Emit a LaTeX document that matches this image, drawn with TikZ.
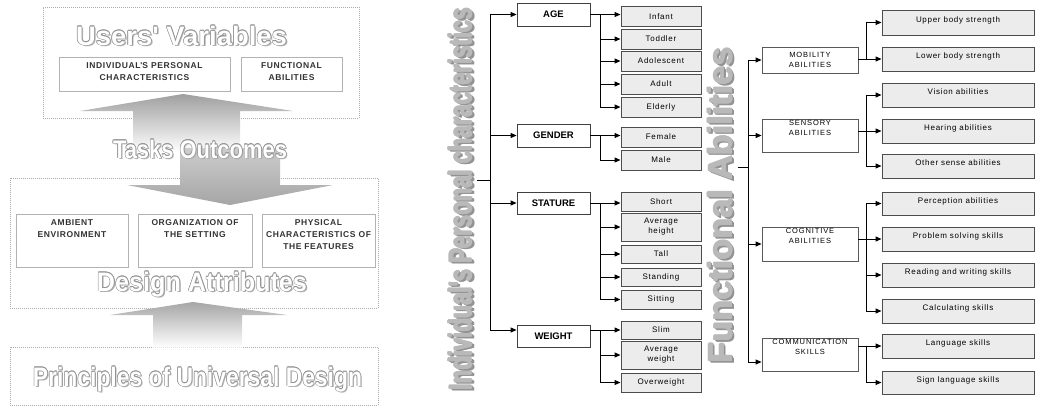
\documentclass[tikz,border=0pt]{standalone}
\usepackage{fontspec}
\setmainfont{Liberation Sans}
\usetikzlibrary{arrows.meta}
\newcommand\olc[3]{\rlap{\kern#1\raisebox{#2}{#3}}}
\newcommand\titletext[1]{%
 \olc{1.5pt}{-1.5pt}{\color{gray!60}#1}%
 \olc{0.6pt}{0pt}{\color{gray!85}#1}\olc{-0.6pt}{0pt}{\color{gray!85}#1}%
 \olc{0pt}{0.6pt}{\color{gray!85}#1}\olc{0pt}{-0.6pt}{\color{gray!85}#1}%
 \olc{0.42pt}{0.42pt}{\color{gray!85}#1}\olc{-0.42pt}{0.42pt}{\color{gray!85}#1}%
 \olc{0.42pt}{-0.42pt}{\color{gray!85}#1}\olc{-0.42pt}{-0.42pt}{\color{gray!85}#1}%
 {\color{white}#1}}
\newcommand\vtitletext[1]{%
 \olc{-2.0pt}{-2.0pt}{\color{gray!85}#1}\olc{-1.4pt}{-1.4pt}{\color{gray!85}#1}%
 \olc{-0.8pt}{-0.8pt}{\color{gray!85}#1}%
 \olc{0.45pt}{0pt}{\color{gray!55}#1}\olc{-0.45pt}{0pt}{\color{gray!55}#1}%
 \olc{0pt}{0.45pt}{\color{gray!55}#1}\olc{0pt}{-0.45pt}{\color{gray!55}#1}%
 {\color{gray!55}#1}}
\newcommand\bigfont{\fontsize{26}{30}\selectfont\bfseries}
\tikzset{
 outerbox/.style={draw=gray!65, densely dotted, line width=1pt, inner sep=0pt},
 innerbox/.style={draw=gray!60, line width=0.7pt, fill=white, inner sep=0pt},
 llbl/.style={font=\fontsize{8.5}{12}\selectfont\bfseries\addfontfeature{LetterSpace=7}, text=black!80, align=center, inner sep=0pt},
 ttl/.style={inner sep=0pt, anchor=base},
 mainbox/.style={draw=black!75, fill=white, line width=0.8pt, inner sep=0pt, minimum width=73pt, minimum height=23pt, font=\fontsize{9.5}{11}\selectfont\bfseries},
 subbox/.style={draw=black!70, fill=gray!15, line width=1pt, inner sep=0pt, minimum width=80pt, align=center, font=\fontsize{8}{10}\selectfont\addfontfeature{LetterSpace=9}},
 fmain/.style={draw=black!65, fill=white, line width=0.8pt, inner sep=0pt, minimum width=96pt, align=center, font=\fontsize{7.5}{10}\selectfont\addfontfeature{LetterSpace=12}},
 fsub/.style={draw=black!70, fill=gray!15, line width=1pt, inner sep=0pt, minimum width=152pt, minimum height=24pt, text height=6pt, text depth=6.5pt, font=\fontsize{8}{10}\selectfont\addfontfeature{LetterSpace=9}},
 arr/.style={-{Triangle[length=6pt,width=5pt]}, line width=1pt, black},
 conn/.style={line width=1pt, black}
}
\begin{document}
\begin{tikzpicture}[x=1pt,y=-1pt]
\useasboundingbox (0,0) rectangle (1037,407);
% ---------------- left panel ----------------
\node[outerbox, minimum width=316pt, minimum height=111pt] (uvbox) at (201,62.5) {};
\node[innerbox, minimum width=171pt, minimum height=34pt] (ipc) at (144.5,74) {};
\node[innerbox, minimum width=101pt, minimum height=34pt] (fa) at (291.5,74) {};
\node[llbl, anchor=north] (ipct) at ([yshift=-6pt]ipc.north) {INDIVIDUAL\textquotesingle S PERSONAL\\CHARACTERISTICS};
\node[llbl, anchor=north] (fat1) at ([yshift=-6pt]fa.north) {FUNCTIONAL\\ABILITIES};
\node[ttl] (uvt) at (181.5,45) {\resizebox{211pt}{20pt}{\bigfont\titletext{Users\textquotesingle\ Variables}}};

\node[outerbox, minimum width=368pt, minimum height=130pt] (dabox) at (194,243) {};
\node[innerbox, minimum width=112pt, minimum height=53pt] (amb) at (72,240.5) {};
\node[innerbox, minimum width=114pt, minimum height=53pt] (org) at (195,240.5) {};
\node[innerbox, minimum width=113pt, minimum height=53pt] (phys) at (318.5,240.5) {};
\node[llbl, anchor=north] (ambt) at ([yshift=-6pt]amb.north) {AMBIENT\\ENVIRONMENT};
\node[llbl, anchor=north] (orgt) at ([yshift=-6pt]org.north) {ORGANIZATION OF\\THE SETTING};
\node[llbl, anchor=north] (physt) at ([yshift=-6pt]phys.north) {PHYSICAL\\CHARACTERISTICS OF\\THE FEATURES};

\node[outerbox, minimum width=368pt, minimum height=58pt] (pudbox) at (194,376) {};

% big arrows
\shade[top color=gray!75, bottom color=white] (133,152) -- (133,111) -- (80,111) -- (183,94) -- (293,111) -- (240,111) -- (240,152) -- cycle;
\shade[top color=gray!40, bottom color=gray!70] (180,148) -- (280,148) -- (280,185) -- (333,185) -- (230,205) -- (127,185) -- (180,185) -- cycle;
\shade[top color=gray!70, bottom color=white] (153,347.5) -- (153,315) -- (110,315) -- (193,302) -- (287,315) -- (242,315) -- (242,347.5) -- cycle;

\node[ttl] (tot) at (200,158) {\resizebox{174pt}{19pt}{\bigfont\titletext{Tasks Outcomes}}};
\node[ttl] (dat) at (202,291) {\resizebox{210pt}{20pt}{\bigfont\titletext{Design Attributes}}};
\node[ttl] (pudt) at (197.5,386) {\resizebox{329pt}{20pt}{\bigfont\titletext{Principles of Universal Design}}};

% ---------------- personal characteristics ----------------
\node[inner sep=0pt, rotate=90] (pct) at (461,199) {\resizebox{382pt}{24pt}{\bfseries\fontsize{22}{26}\selectfont\vtitletext{Individual\textquotesingle s Personal characteristics}}};

\node[mainbox] (age) at (553.5,14.5) {AGE};
\node[mainbox] (gender) at (553.5,135.5) {GENDER};
\node[mainbox, minimum height=22pt] (stature) at (553.5,203) {STATURE};
\node[mainbox, minimum height=22pt] (weight) at (553.5,336) {WEIGHT};

\node[subbox, minimum height=20pt] (infant) at (661,16.5) {Infant};
\node[subbox, minimum height=20pt] (toddler) at (661,39) {Toddler};
\node[subbox, minimum height=20pt] (adolescent) at (661,61) {Adolescent};
\node[subbox, minimum height=20pt] (adult) at (661,84) {Adult};
\node[subbox, minimum height=20pt] (elderly) at (661,107) {Elderly};
\node[subbox, minimum height=20pt] (female) at (661,137) {Female};
\node[subbox, minimum height=20pt] (male) at (661,160) {Male};
\node[subbox, minimum height=19pt] (short) at (661,201.5) {Short};
\node[subbox, minimum height=28pt] (avgh) at (661,227) {Average\\height};
\node[subbox, minimum height=18pt] (tall) at (661,254) {Tall};
\node[subbox, minimum height=18pt] (standing) at (661,277) {Standing};
\node[subbox, minimum height=19pt] (sitting) at (661,299.5) {Sitting};
\node[subbox, minimum height=18pt] (slim) at (661,330) {Slim};
\node[subbox, minimum height=28pt] (avgw) at (661,355) {Average\\weight};
\node[subbox, minimum height=19pt] (overw) at (661,382.5) {Overweight};

\coordinate (ptr) at (490,0);
\coordinate (pstub) at (477,180);
\coordinate (pb) at (600,0);
\draw[conn] (pstub) -- (ptr |- pstub);
\draw[conn] (ptr |- age) -- (ptr |- slim);
\draw[arr] (ptr |- age) -- (age.west);
\draw[arr] (ptr |- gender) -- (gender.west);
\draw[arr] (ptr |- stature) -- (stature.west);
\draw[arr] (ptr |- slim) -- (weight.west |- slim);

\draw[arr] (age.east) -- (age.east -| infant.west);
\draw[conn] (pb |- age.east) -- (pb |- elderly);
\foreach \n in {toddler,adolescent,adult,elderly} \draw[arr] (pb |- \n) -- (\n.west);
\draw[arr] (gender.east) -- (gender.east -| female.west);
\draw[conn] (pb |- gender.east) -- (pb |- male);
\draw[arr] (pb |- male) -- (male.west);
\draw[arr] (stature.east) -- (stature.east -| short.west);
\draw[conn] (pb |- stature.east) -- (pb |- sitting);
\foreach \n in {avgh,tall,standing,sitting} \draw[arr] (pb |- \n) -- (\n.west);
\draw[arr] (weight.east |- slim) -- (slim.west);
\draw[conn] (pb |- slim) -- (pb |- overw);
\foreach \n in {avgw,overw} \draw[arr] (pb |- \n) -- (\n.west);

% ---------------- functional abilities ----------------
\node[inner sep=0pt, rotate=90] (fat) at (721,205) {\resizebox{316pt}{25pt}{\bfseries\fontsize{30}{34}\selectfont\vtitletext{Functional Abilities}}};

\node[fmain, minimum height=26pt] (mob) at (810,60) {MOBILITY\\ABILITIES};
\node[fmain, minimum height=33pt, text depth=16pt] (sen) at (810,135.5) {SENSORY\\ABILITIES};
\node[fmain, minimum height=34pt, text depth=16pt] (cog) at (810,244) {COGNITIVE\\ABILITIES};
\node[fmain, minimum height=33pt, text depth=15pt] (com) at (810,354.5) {COMMUNICATION\\SKILLS};

\node[fsub, minimum height=25pt] (ubs) at (958,22.5) {Upper body strength};
\node[fsub] (lbs) at (958,59) {Lower body strength};
\node[fsub] (vis) at (958,95) {Vision abilities};
\node[fsub] (hear) at (958,131) {Hearing abilities};
\node[fsub] (oth) at (958,166) {Other sense abilities};
\node[fsub, minimum height=23pt] (perc) at (958,203.5) {Perception abilities};
\node[fsub] (prob) at (958,239) {Problem solving skills};
\node[fsub] (read) at (958,275) {Reading and writing skills};
\node[fsub] (calc) at (958,311) {Calculating skills};
\node[fsub] (lang) at (958,346) {Language skills};
\node[fsub, minimum height=23pt] (sign) at (958,382.5) {Sign language skills};

\coordinate (ftr) at (748,0);
\coordinate (fstub) at (738,167);
\coordinate (fcom) at (748,362);
\coordinate (fb) at (866,0);
\draw[conn] (fstub) -- (ftr |- fstub);
\draw[conn] (ftr |- mob) -- (fcom);
\draw[arr] (ftr |- mob) -- (mob.west);
\draw[arr] (ftr |- sen) -- (sen.west);
\draw[arr] (ftr |- cog) -- (cog.west);
\draw[arr] (fcom) -- (fcom -| com.west);

\draw[conn] (mob.east |- lbs) -- (fb |- lbs);
\draw[conn] (fb |- ubs) -- (fb |- lbs);
\foreach \n in {ubs,lbs} \draw[arr] (fb |- \n) -- (\n.west);
\draw[conn] (sen.east |- hear) -- (fb |- hear);
\draw[conn] (fb |- vis) -- (fb |- oth);
\foreach \n in {vis,hear,oth} \draw[arr] (fb |- \n) -- (\n.west);
\draw[conn] (cog.east |- prob) -- (fb |- prob);
\draw[conn] (fb |- perc) -- (fb |- calc);
\foreach \n in {perc,prob,read,calc} \draw[arr] (fb |- \n) -- (\n.west);
\draw[conn] (com.east |- lang) -- (fb |- lang);
\draw[conn] (fb |- lang) -- (fb |- sign);
\foreach \n in {lang,sign} \draw[arr] (fb |- \n) -- (\n.west);
\end{tikzpicture}
\end{document}
